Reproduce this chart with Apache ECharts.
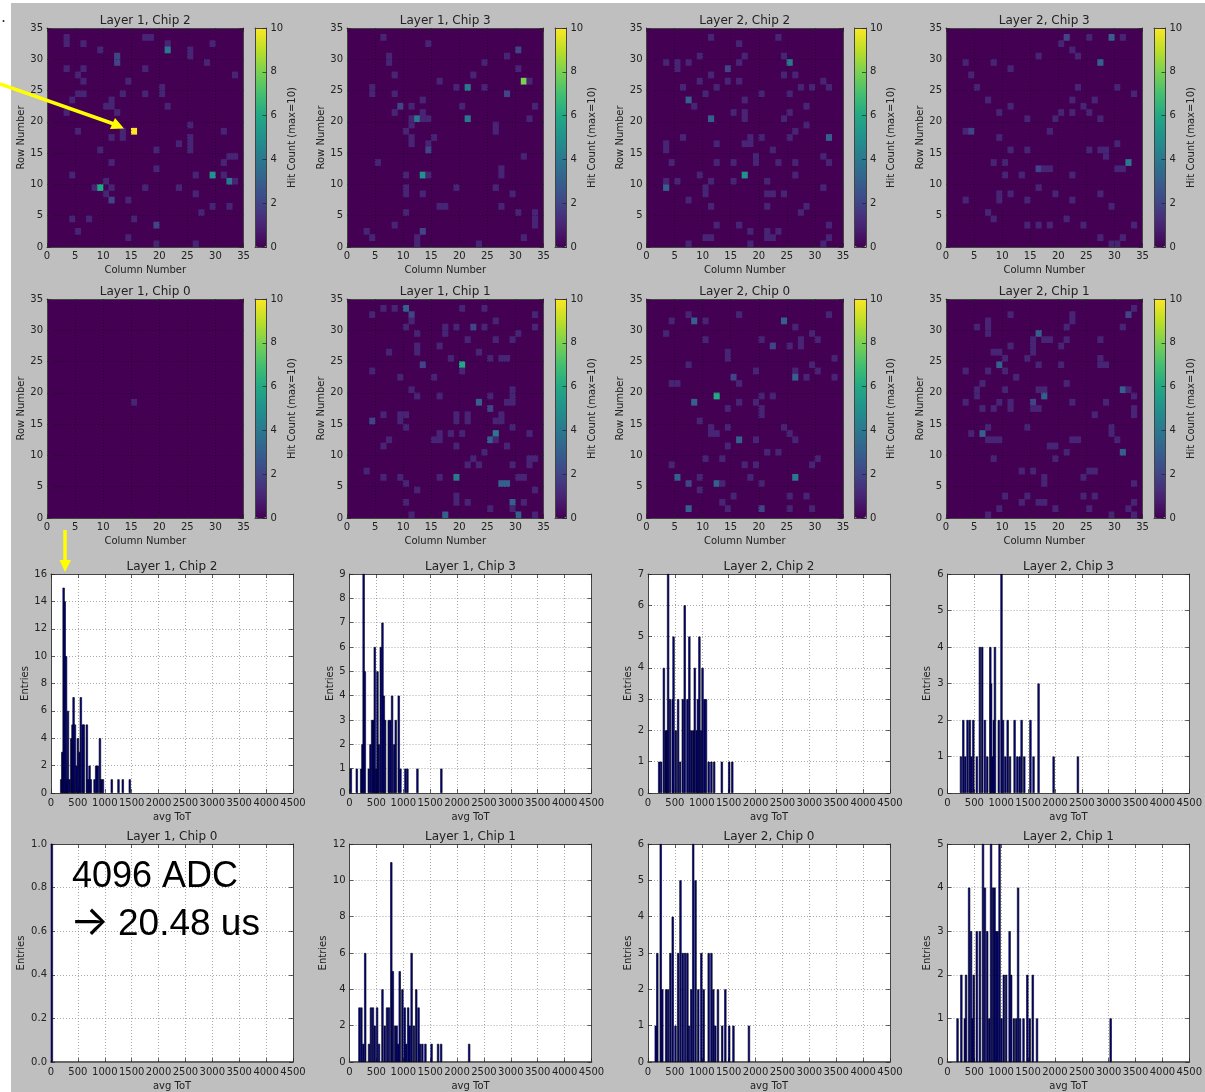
<!DOCTYPE html>
<html><head><meta charset="utf-8">
<script src="https://cdn.jsdelivr.net/npm/echarts@6/dist/echarts.min.js"></script>
<style>html,body{margin:0;padding:0;background:#fff}#c{width:1205px;height:1092px;filter:blur(0.4px)}</style>
</head><body><div id="c"></div>
<script>
// Hit maps: [column, row, hits]; every cell not listed holds 0 hits
const hitsL1C2=[[3,33,1],[3,32,1],[17,33,1],[18,33,1],[6,32,1],[21,32,1],[21,31,4],[29,32,1],[9,31,1],[25,31,1],[25,30,1],[12,30,2],[12,29,2],[28,29,1],[3,28,1],[6,28,1],[17,28,1],[5,27,1],[33,27,1],[6,26,1],[14,26,1],[20,25,1],[20,24,1],[5,24,1],[6,24,1],[13,24,1],[17,24,1],[4,23,1],[11,23,1],[10,22,1],[11,22,1],[21,22,1],[3,21,1],[12,21,1],[25,19,1],[5,18,1],[13,18,1],[15,18,10],[31,18,1],[11,17,1],[13,17,1],[25,17,1],[25,16,1],[23,16,1],[9,15,1],[19,15,1],[25,15,1],[32,14,1],[33,14,1],[11,13,1],[31,13,1],[19,12,1],[4,11,1],[26,11,1],[29,11,5],[31,11,1],[10,10,1],[32,10,4],[33,10,1],[8,9,1],[9,9,6],[11,9,1],[17,9,1],[23,9,1],[10,8,1],[26,8,1],[11,7,2],[14,7,1],[29,6,1],[32,6,1],[27,5,1],[4,4,1],[7,4,1],[15,4,1],[19,3,2],[5,2,1],[14,1,1],[19,0,1],[26,0,1]];
const hitsL1C3=[[6,33,1],[14,32,1],[30,31,2],[7,30,1],[7,29,1],[28,30,1],[24,29,1],[30,28,1],[8,27,1],[22,27,1],[16,26,1],[31,26,8],[32,26,1],[4,25,1],[4,24,1],[19,25,1],[21,25,4],[24,25,1],[8,24,1],[28,24,2],[13,23,1],[9,22,2],[11,22,1],[20,22,1],[33,22,1],[8,21,1],[13,21,1],[11,20,1],[12,20,4],[13,20,1],[14,20,1],[21,20,4],[32,20,1],[11,19,1],[26,19,1],[26,18,1],[10,18,1],[11,17,1],[15,17,1],[11,16,1],[14,16,1],[14,15,2],[31,14,1],[5,13,1],[27,12,1],[27,11,1],[10,11,1],[13,11,5],[14,11,1],[10,9,1],[19,9,1],[26,9,1],[10,8,1],[13,8,1],[29,8,1],[16,6,1],[17,6,1],[27,6,1],[10,5,1],[30,5,1],[33,5,1],[33,4,1],[33,3,1],[8,3,1],[3,2,1],[13,2,2],[4,1,1],[12,1,1],[12,0,1],[31,1,1],[23,0,1]];
const hitsL2C2=[[11,33,1],[23,33,1],[16,32,1],[9,30,1],[17,30,1],[24,30,1],[3,29,1],[5,29,1],[5,28,1],[7,29,1],[16,29,1],[25,29,4],[14,28,2],[11,27,1],[24,27,1],[26,27,1],[9,26,1],[14,26,1],[16,26,1],[31,26,1],[6,25,1],[12,25,1],[27,25,1],[29,25,1],[32,25,1],[10,24,1],[20,24,1],[25,24,1],[7,23,3],[17,23,1],[8,22,1],[28,22,1],[15,21,1],[17,21,1],[25,21,1],[11,20,3],[17,20,1],[24,20,1],[28,19,1],[26,18,1],[6,17,1],[18,17,1],[20,17,1],[25,17,1],[32,17,3],[3,16,1],[3,15,1],[12,16,1],[17,16,1],[18,16,1],[22,15,1],[19,14,1],[19,13,1],[31,14,1],[4,13,1],[12,13,1],[15,13,1],[23,13,1],[26,13,1],[32,13,1],[9,11,1],[17,11,5],[26,11,1],[3,10,1],[5,10,1],[11,10,1],[15,10,1],[21,10,1],[3,9,3],[10,9,1],[31,9,1],[10,8,1],[21,8,1],[22,8,1],[24,8,1],[7,7,1],[11,6,1],[21,6,1],[28,6,1],[27,5,1],[12,3,1],[16,3,1],[32,3,1],[18,2,1],[21,2,1],[23,2,1],[10,1,1],[11,1,1],[21,1,1],[22,1,1],[32,1,1],[7,0,1],[18,0,1],[31,0,1]];
const hitsL2C3=[[21,33,2],[25,33,1],[29,33,3],[31,33,1],[20,32,1],[22,31,1],[23,30,1],[16,30,1],[3,29,1],[8,29,1],[27,29,3],[11,28,1],[4,27,1],[5,25,1],[23,25,1],[30,25,1],[33,24,1],[7,23,1],[22,23,1],[26,23,1],[11,22,1],[24,22,1],[9,21,1],[20,21,1],[22,21,1],[25,21,1],[14,20,1],[19,20,1],[27,20,1],[3,18,1],[4,18,2],[18,18,1],[9,17,1],[30,16,1],[11,15,1],[14,15,1],[25,15,1],[27,15,1],[28,15,1],[28,14,1],[8,13,1],[10,13,1],[32,13,4],[16,12,2],[17,12,1],[18,12,1],[30,12,1],[31,12,1],[10,11,1],[13,11,1],[22,11,1],[16,9,1],[9,8,1],[11,8,1],[19,8,1],[27,8,1],[3,7,1],[9,7,1],[14,7,1],[22,7,1],[29,6,1],[7,5,1],[8,4,1],[21,4,1],[14,3,1],[16,3,1],[18,3,1],[24,3,1],[33,3,1],[27,1,1],[31,1,1],[29,0,1],[30,0,1]];
const hitsL1C0=[[15,18,1]];
const hitsL1C1=[[6,33,1],[8,33,1],[10,33,3],[20,33,1],[24,33,1],[4,32,1],[11,32,2],[33,32,1],[11,31,1],[26,31,1],[10,30,1],[17,30,1],[19,30,1],[22,30,2],[24,30,1],[33,30,1],[12,29,1],[17,29,1],[30,29,1],[21,28,1],[26,28,1],[29,28,1],[12,27,1],[16,27,1],[7,26,1],[12,26,1],[23,26,1],[18,25,1],[25,25,1],[27,25,1],[28,25,1],[13,24,2],[20,24,6],[4,23,1],[20,23,1],[9,22,1],[15,22,1],[11,20,1],[29,20,1],[12,19,1],[16,19,1],[25,19,1],[29,19,1],[23,18,3],[28,18,1],[29,18,1],[25,17,2],[6,16,1],[9,16,1],[10,16,1],[19,16,1],[21,16,1],[27,16,1],[4,15,2],[9,15,1],[19,15,1],[21,15,1],[26,15,1],[27,15,1],[10,14,1],[29,14,1],[16,13,1],[18,13,1],[20,13,1],[26,13,4],[32,13,1],[7,12,1],[15,12,1],[16,12,1],[25,12,3],[26,12,1],[6,11,1],[19,11,1],[28,11,1],[24,10,1],[22,9,1],[32,9,1],[33,9,1],[21,8,1],[23,8,1],[29,8,1],[32,8,1],[3,7,1],[6,6,1],[9,6,1],[16,6,1],[19,6,4],[30,6,1],[31,6,1],[10,5,1],[27,5,3],[28,5,3],[12,4,1],[33,4,1],[19,3,1],[19,2,1],[10,2,1],[21,2,1],[29,2,3],[31,2,1],[25,1,1],[29,1,1],[11,0,1],[17,0,3],[30,0,3],[33,0,1]];
const hitsL2C0=[[7,32,1],[16,32,1],[32,32,1],[4,31,1],[8,31,3],[10,31,1],[24,31,3],[26,30,1],[3,29,1],[29,29,1],[10,28,1],[20,28,1],[27,28,1],[30,28,1],[22,27,2],[25,27,1],[27,27,1],[14,26,1],[14,25,1],[33,25,1],[7,24,1],[29,24,1],[19,23,1],[26,23,1],[30,23,1],[15,22,2],[26,22,3],[28,22,1],[33,22,1],[4,21,1],[5,21,1],[16,21,1],[12,19,6],[20,19,1],[22,19,1],[8,18,3],[16,18,1],[19,18,1],[14,17,1],[20,17,1],[20,16,1],[9,15,1],[11,14,1],[14,14,1],[24,14,1],[11,13,1],[12,13,1],[25,13,1],[16,12,3],[19,12,1],[26,12,1],[14,11,1],[21,10,1],[23,10,1],[10,9,1],[13,9,1],[30,9,1],[4,8,1],[17,8,1],[19,8,1],[29,8,1],[5,6,3],[9,6,1],[18,6,1],[26,6,4],[7,5,2],[12,5,3],[13,5,1],[20,5,1],[9,4,1],[15,3,1],[25,3,1],[28,3,1],[13,2,1],[7,1,3],[14,1,1],[20,1,2],[25,1,1],[29,1,1]];
const hitsL2C1=[[33,33,1],[11,32,1],[22,32,1],[32,32,2],[22,31,1],[7,31,1],[5,30,1],[7,30,1],[21,30,1],[31,30,1],[7,29,1],[16,29,3],[15,28,1],[17,28,1],[18,28,1],[21,28,1],[27,28,1],[11,27,1],[15,27,1],[20,27,1],[8,26,1],[9,26,1],[15,26,1],[10,25,1],[14,25,1],[27,25,1],[9,24,3],[16,24,1],[20,24,1],[27,24,1],[28,24,1],[3,23,1],[7,23,1],[10,23,1],[12,22,1],[6,21,1],[21,21,1],[5,20,1],[10,20,1],[16,20,1],[17,20,1],[31,20,3],[32,20,1],[5,19,1],[17,19,3],[33,19,1],[3,18,1],[9,18,1],[11,18,1],[15,18,2],[22,18,1],[28,18,1],[6,17,1],[8,17,1],[11,17,1],[15,17,1],[16,17,1],[33,17,1],[26,16,1],[33,16,1],[7,14,1],[14,14,1],[29,14,1],[4,13,1],[6,13,3],[29,13,1],[7,12,1],[8,12,1],[9,12,1],[22,12,1],[23,12,1],[30,12,1],[18,11,1],[19,11,1],[21,10,1],[31,10,3],[8,9,1],[19,9,1],[13,7,1],[15,7,1],[25,7,1],[26,7,1],[17,6,1],[24,6,1],[17,5,1],[33,5,1],[10,3,1],[14,3,1],[24,3,1],[26,3,1],[13,2,1],[16,2,1],[17,2,1],[33,2,1],[9,1,1],[19,1,1],[25,1,1],[32,1,1],[7,0,1],[29,0,1],[33,0,1]];
// Histograms: [avg ToT, entries]
const totL1C2=[[190,1],[210,3],[235,15],[255,14],[280,10],[300,1],[315,6],[345,1],[377,4],[400,5],[420,7],[445,5],[475,2],[500,4],[530,3],[555,7],[590,5],[610,5],[667,5],[690,1],[717,2],[740,1],[810,1],[840,2],[870,2],[910,4],[935,1],[965,1],[1130,1],[1255,1],[1335,1],[1465,1]];
const totL1C3=[[25,1],[136,1],[217,1],[241,2],[263,9],[285,5],[359,1],[390,2],[421,3],[446,3],[470,6],[495,1],[520,5],[545,2],[582,6],[613,7],[638,4],[662,3],[730,3],[761,3],[792,4],[830,2],[860,3],[916,4],[947,1],[1040,1],[1077,1],[1263,1],[1708,1]];
const totL2C2=[[208,1],[244,1],[295,4],[330,2],[352,2],[374,7],[410,3],[460,3],[475,5],[518,2],[560,3],[597,1],[647,3],[683,6],[733,3],[769,5],[805,2],[840,2],[870,4],[906,2],[928,3],[956,5],[985,2],[1014,4],[1050,3],[1078,3],[1129,1],[1179,1],[1230,1],[1373,1],[1510,1],[1567,1]];
const totL2C3=[[251,1],[294,2],[330,1],[373,2],[416,2],[445,1],[481,2],[546,1],[603,4],[646,4],[696,2],[740,1],[797,4],[811,3],[840,1],[862,2],[883,4],[955,2],[1005,6],[1034,2],[1077,1],[1120,2],[1163,1],[1249,2],[1300,1],[1343,1],[1379,2],[1429,1],[1544,2],[1601,1],[1695,3],[1975,1],[2427,1]];
const totL1C0=[[16,1]];
const totL1C1=[[185,3],[221,3],[257,1],[292,6],[364,1],[399,3],[435,3],[470,2],[513,3],[549,1],[613,4],[656,2],[699,3],[734,3],[777,11],[806,5],[848,2],[877,2],[905,1],[934,5],[984,4],[1027,3],[1055,1],[1091,3],[1120,2],[1155,6],[1198,2],[1241,4],[1284,3],[1312,1],[1355,1],[1412,1],[1526,1],[1647,1],[1704,1],[2225,1]];
const totL2C0=[[144,1],[173,3],[237,6],[266,2],[338,2],[374,2],[417,3],[460,4],[511,1],[561,3],[604,5],[647,3],[690,3],[733,3],[762,1],[805,2],[841,6],[884,5],[935,2],[992,3],[1035,2],[1129,3],[1179,3],[1215,2],[1251,1],[1301,2],[1380,1],[1438,2],[1510,1],[1589,1],[1877,1]];
const totL2C1=[[187,1],[258,2],[323,1],[345,2],[402,4],[438,3],[466,1],[488,2],[546,3],[603,3],[661,5],[696,4],[739,3],[776,1],[811,5],[847,4],[876,4],[905,3],[933,3],[969,5],[1005,1],[1048,2],[1091,2],[1156,3],[1185,2],[1235,1],[1278,1],[1314,4],[1350,1],[1415,1],[1486,2],[1530,1],[1587,2],[1666,1],[3037,1]];
const titles=[['Layer 1, Chip 2','Layer 1, Chip 3','Layer 2, Chip 2','Layer 2, Chip 3'],['Layer 1, Chip 0','Layer 1, Chip 1','Layer 2, Chip 0','Layer 2, Chip 1']];
const hitMaps=[[hitsL1C2,hitsL1C3,hitsL2C2,hitsL2C3],[hitsL1C0,hitsL1C1,hitsL2C0,hitsL2C1]];
const totHists=[[totL1C2,totL1C3,totL2C2,totL2C3],[totL1C0,totL1C1,totL2C0,totL2C1]];
const histMax=[[16,9,7,6],[1,12,6,5]];
const histStep=[[2,1,1,1],[0.2,2,1,1]];
const entriesGap=[[21,14,14,15],[25,20,14,15]];
const cellLabels=Array.from({length:35},(_,i)=>String(i));
const viridis=['#440154','#482475','#414487','#355f8d','#2a788e','#21918c','#22a884','#44bf70','#7ad151','#bddf26','#fde725'];

const FONT='DejaVu Sans', INK='#222', FRAME='#444';
const heatX=[47,347,646.5,946], heatY=[28,299], HW=196.5, HH=219;
const histX=[51,349.5,648,947.5], histY=[574,844], BW=242, BH=[219,219.5];
const opt={animation:false,backgroundColor:'#fff',title:[],grid:[],xAxis:[],yAxis:[],series:[],visualMap:[],graphic:[]};
const lab={fontFamily:FONT,fontSize:10,color:INK};
const plain=v=>String(v);

function frameAxis(kind,g,pos,min,max,step,extra){
  return Object.assign({type:'value',gridIndex:g,position:pos,min,max,interval:step,z:5,
    axisLine:{show:true,onZero:false,lineStyle:{color:FRAME,width:1}},
    axisTick:{show:true,inside:true,length:4,lineStyle:{color:'#222',width:0.7}},
    axisLabel:{show:false},splitLine:{show:false}},extra||{});
}
function gridLines(c,o){return {show:true,lineStyle:{color:c,width:o.w,type:[1,2],opacity:o.a}};}
function addTitle(text,cx,top){
  opt.title.push({text,left:cx,top,textAlign:'center',padding:0,textStyle:{fontFamily:FONT,fontSize:12,fontWeight:'normal',color:'#222'}});
}
function named(name,gap){return {name,nameLocation:'middle',nameGap:gap,nameTextStyle:{fontFamily:FONT,fontSize:10,color:INK}};}
function labels(margin,fmt){return Object.assign({show:true,margin,formatter:fmt||plain,showMinLabel:true,showMaxLabel:true,hideOverlap:false},lab);}

titles.forEach((rowT,r)=>rowT.forEach((t,c)=>{
  // hit map: band axes carry the cells, value axes on a twin grid carry ticks and labels
  const x=heatX[c], y=heatY[r];
  let g=opt.grid.length;
  opt.grid.push({left:x,top:y,width:HW,height:HH,show:true,backgroundColor:viridis[0],borderWidth:0});
  const xi=opt.xAxis.length, yi=opt.yAxis.length;
  opt.xAxis.push({type:'category',gridIndex:g,data:cellLabels,show:false});
  opt.yAxis.push({type:'category',gridIndex:g,data:cellLabels,show:false});
  const si=opt.series.length;
  opt.series.push({type:'heatmap',name:t,xAxisIndex:xi,yAxisIndex:yi,data:hitMaps[r][c],z:2,emphasis:{disabled:true}});
  opt.visualMap.push({type:'continuous',min:0,max:10,dimension:2,seriesIndex:si,left:x+HW+11.5,top:y,itemWidth:11.5,itemHeight:HH,padding:0,
    calculable:false,realtime:false,showLabel:false,text:null,inRange:{color:viridis}});
  addTitle(t,x+HW/2,y-13.5);
  g=opt.grid.length;
  opt.grid.push({left:x,top:y,width:HW,height:HH});
  const hg=gridLines('#000',{w:0.7,a:0.45});
  opt.xAxis.push(frameAxis('x',g,'bottom',0,35,5,Object.assign(named('Column Number',18.5),{axisLabel:labels(4),splitLine:hg})));
  opt.xAxis.push(frameAxis('x',g,'top',0,35,5));
  opt.yAxis.push(frameAxis('y',g,'left',0,35,5,Object.assign(named('Row Number',20),{axisLabel:labels(4),splitLine:hg})));
  opt.yAxis.push(frameAxis('y',g,'right',0,35,5));
  // colour bar scale
  g=opt.grid.length;
  opt.grid.push({left:x+HW+11.5,top:y,width:11.5,height:HH});
  const edge=p=>({type:'value',gridIndex:g,min:0,max:1,show:true,position:p,z:5,axisLine:{show:true,onZero:false,lineStyle:{color:FRAME}},axisTick:{show:false},axisLabel:{show:false},splitLine:{show:false}});
  opt.xAxis.push(edge('bottom'));
  opt.xAxis.push(edge('top'));
  opt.yAxis.push(frameAxis('y',g,'left',0,10,2,{axisTick:{show:false}}));
  opt.yAxis.push(frameAxis('y',g,'right',0,10,2,Object.assign(named('Hit Count (max=10)',18),{nameRotate:90,axisLabel:labels(4)})));
}));

titles.forEach((rowT,r)=>rowT.forEach((t,c)=>{
  const x=histX[c], y=histY[r], g=opt.grid.length, h=BH[r];
  opt.grid.push({left:x,top:y,width:BW,height:h,show:true,backgroundColor:'#fff',borderWidth:0});
  const xi=opt.xAxis.length, yi=opt.yAxis.length, m=histMax[r][c], st=histStep[r][c];
  const sg=gridLines('#777',{w:0.8,a:0.8});
  const base=r===1?{show:true,onZero:false,lineStyle:{color:'#666',width:1.8}}:{show:true,onZero:false,lineStyle:{color:FRAME,width:1}};
  opt.xAxis.push(frameAxis('x',g,'bottom',0,4500,500,Object.assign(named('avg ToT',19),{axisLine:base,axisLabel:labels(5),splitLine:sg})));
  opt.xAxis.push(frameAxis('x',g,'top',0,4500,500));
  opt.yAxis.push(frameAxis('y',g,'left',0,m,st,Object.assign(named('Entries',entriesGap[r][c]),{axisLabel:labels(4,m===1?(v=>v.toFixed(1)):plain),splitLine:sg})));
  opt.yAxis.push(frameAxis('y',g,'right',0,m,st));
  opt.series.push({type:'bar',name:t,xAxisIndex:xi,yAxisIndex:yi,data:totHists[r][c],barWidth:2.2,z:6,
    itemStyle:{color:'#00009a',borderColor:'#000',borderWidth:0.6}});
  addTitle(t,x+BW/2,y-13.5);
}));

const Y='#ffff00';
opt.graphic=[
  {type:'rect',z:-10,silent:true,shape:{x:11,y:3,width:1194,height:1089},style:{fill:'#bfbfbf'}},
  {type:'circle',z:20,silent:true,shape:{cx:3.5,cy:21,r:1},style:{fill:'#222'}},
  {type:'line',z:20,silent:true,shape:{x1:0,y1:84,x2:114,y2:124},style:{stroke:Y,lineWidth:3.5}},
  {type:'polygon',z:20,silent:true,shape:{points:[[124,128.5],[115,118],[110,129]]},style:{fill:Y}},
  {type:'line',z:20,silent:true,shape:{x1:65,y1:530,x2:65,y2:561},style:{stroke:Y,lineWidth:3.5}},
  {type:'polygon',z:20,silent:true,shape:{points:[[59.5,560],[71,560],[65,572]]},style:{fill:Y}},
  {type:'text',z:20,silent:true,x:72,y:877,style:{text:'4096 ADC',font:'36px "Liberation Sans"',fill:'#000',verticalAlign:'middle'}},
  {type:'text',z:20,silent:true,x:70,y:923,style:{text:'→',font:'41px Inter',fill:'#000',verticalAlign:'middle'}},
  {type:'text',z:20,silent:true,x:118,y:925,style:{text:'20.48 us',font:'37px "Liberation Sans"',fill:'#000',verticalAlign:'middle'}}
];
echarts.init(document.getElementById('c')).setOption(opt);
</script></body></html>
